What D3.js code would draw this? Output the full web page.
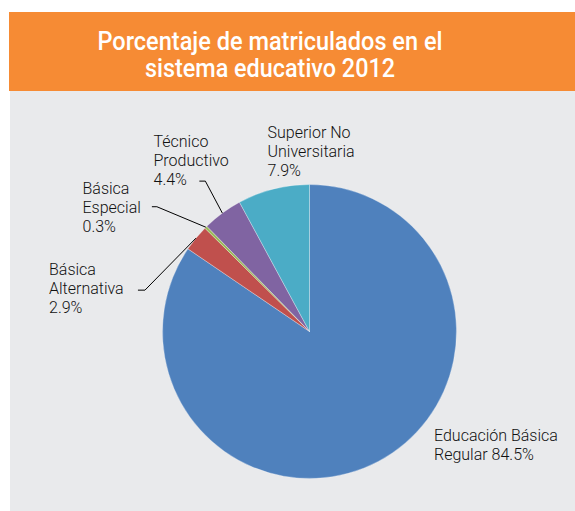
<!DOCTYPE html>
<html><head><meta charset="utf-8">
<script src="https://cdn.jsdelivr.net/npm/d3@7"></script>
<style>html,body{margin:0;padding:0;background:#fff;}svg{display:block;}</style>
</head><body>
<svg id="chart" width="575" height="511"></svg>
<script>
const titleLines = ["Porcentaje de matriculados en el", "sistema educativo 2012"];
const categories = ["Educación Básica Regular", "Básica Alternativa", "Básica Especial", "Técnico Productivo", "Superior No Universitaria"];
const values = [84.5, 2.9, 0.3, 4.4, 7.9];
const labelLines = [
  ["Educación Básica", "Regular 84.5%"],
  ["Básica", "Alternativa", "2.9%"],
  ["Básica", "Especial", "0.3%"],
  ["Técnico", "Productivo", "4.4%"],
  ["Superior No", "Universitaria", "7.9%"]
];
const colors = ["#4F81BD", "#C0504D", "#9BBB59", "#8064A2", "#4BACC6"];

const svg = d3.select("#chart");
const W = 575, H = 511;
const font = "Roboto, 'Noto Sans', sans-serif";

svg.append("rect").attr("x", 10).attr("y", 90).attr("width", W - 10).attr("height", H - 90).attr("fill", "#E9EAEC");
svg.append("rect").attr("x", 9).attr("y", 12).attr("width", W - 9).attr("height", 79).attr("fill", "#F68B34");

const titleWidths = [345, 250];
svg.selectAll("text.title").data(titleLines).join("text")
  .attr("class", "title")
  .attr("x", 270).attr("y", (d, i) => 49.5 + i * 27.7)
  .attr("text-anchor", "middle")
  .attr("fill", "#fff")
  .attr("font-family", font).attr("font-weight", 500).attr("font-size", 25.5)
  .attr("textLength", (d, i) => titleWidths[i]).attr("lengthAdjust", "spacingAndGlyphs")
  .text(d => d);

const cx = 309.5, cy = 331.5, r = 147;
const g = svg.append("g").attr("transform", `translate(${cx},${cy})`);
const pie = d3.pie().sort(null).value(d => d).startAngle(0).endAngle(2 * Math.PI);
const arcs = pie(values);
const arc = d3.arc().innerRadius(0).outerRadius(r);

g.selectAll("path").data(arcs).join("path")
  .attr("d", arc)
  .attr("fill", (d, i) => colors[i])
  .attr("stroke", "#ffffff").attr("stroke-opacity", 0.5).attr("stroke-width", 0.6);

// label layout: text block origin (first baseline) and optional leader elbow offset from slice anchor
const layout = [
  { x: 434, y: 440.5 },
  { x: 49, y: 275, elbow: [-51, 52], tail: 7 },
  { x: 82.5, y: 194, elbow: [-49, -20.5], tail: 5 },
  { x: 153.5, y: 147, elbow: [-17, -32], tail: 6 },
  { x: 267.5, y: 138 }
];
const lh = 19;

arcs.forEach((a, i) => {
  const L = layout[i];
  const t = svg.append("text")
    .attr("font-family", font).attr("font-size", 16).attr("font-weight", 300)
    .attr("fill", "#111");
  labelLines[i].forEach((line, j) => {
    t.append("tspan").attr("x", L.x).attr("y", L.y + j * lh).text(line);
  });
  if (L.elbow) {
    const mid = (a.startAngle + a.endAngle) / 2;
    const ax = cx + r * Math.sin(mid), ay = cy - r * Math.cos(mid);
    const ex = ax + L.elbow[0], ey = ay + L.elbow[1];
    svg.append("polyline")
      .attr("points", [[ax, ay], [ex, ey], [ex - L.tail, ey]].map(p => p.join(",")).join(" "))
      .attr("fill", "none").attr("stroke", "#000").attr("stroke-width", 1);
  }
});
</script>
</body></html>
